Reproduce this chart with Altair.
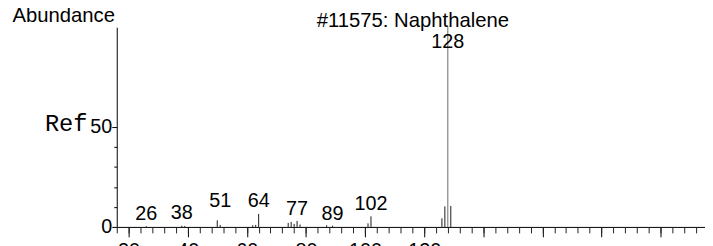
import altair as alt
import pandas as pd

# ---- data ----
mz = [26, 38, 39, 50, 51, 62, 63, 64, 74, 75, 76, 77, 78, 87, 89, 101, 102, 126, 127, 128, 129]
abund = [0.4, 0.6, 0.5, 3.3, 1.0, 0.8, 1.0, 6.5, 2.0, 2.5, 1.5, 3.0, 1.2, 0.8, 0.6, 1.8, 5.3, 4.3, 10.3, 100, 10.5]

label_mz = [26, 38, 51, 64, 77, 89, 102, 128]
label_text = ["26", "38", "51", "64", "77", "89", "102", "128"]
label_at = [6.4, 6.9, 12.7, 12.7, 8.7, 6.6, 11.4, 92.6]

x_major_ticks = [20, 40, 60, 80, 100, 120, 140, 160, 180, 200]
x_minor_ticks = list(range(16, 216, 4))
y_major_ticks = [0, 50]
y_minor_ticks = [10, 20, 30, 40]

peaks = pd.DataFrame({"mz": mz, "abund": abund})
labels = pd.DataFrame({"mz": label_mz, "text": label_text, "at": label_at})

FONT = "Liberation Sans"

xscale = alt.Scale(domain=[16, 215], nice=False, zero=False)
yscale = alt.Scale(domain=[0, 100], nice=False)

x_major_axis = alt.Axis(
    orient="bottom", values=x_major_ticks, tickSize=10, tickColor="black", tickWidth=1,
    domainColor="black", domainWidth=1, grid=False, title=None,
    labelFont=FONT, labelFontSize=20, labelColor="black", labelPadding=4,
    labelExpr="datum.value <= 120 ? datum.label : ''", labelFlush=False, labelOverlap=False,
)
x_minor_axis = alt.Axis(
    orient="bottom", values=x_minor_ticks, tickSize=6, tickColor="#222", tickWidth=1,
    domain=False, grid=False, labels=False,
    title="#11575: Naphthalene", titleFont=FONT, titleFontSize=20.5, titleFontWeight="normal",
    titleColor="black", titleAngle=0, titleAlign="center", titleBaseline="alphabetic",
    titleX=299, titleY=-203,
)
y_major_axis = alt.Axis(
    orient="left", values=y_major_ticks, tickSize=5, tickColor="black", domainColor="black",
    grid=False, labelFont=FONT, labelFontSize=20, labelColor="black", labelPadding=0,
    title="Ref", titleFont="Liberation Mono", titleFontSize=24, titleFontWeight="normal",
    titleColor="black", titleAngle=0, titleAlign="right", titleBaseline="alphabetic",
    titleX=-30, titleY=104,
)
y_minor_axis = alt.Axis(
    orient="left", values=y_minor_ticks, tickSize=3, tickColor="black", domain=False,
    grid=False, labels=False,
    title="Abundance", titleFont=FONT, titleFontSize=20.5, titleFontWeight="normal",
    titleColor="black", titleAngle=0, titleAlign="left", titleBaseline="alphabetic",
    titleX=-106, titleY=-6,
)

sticks = alt.Chart(peaks).mark_rule(strokeWidth=1).encode(
    x=alt.X("mz:Q", scale=xscale, axis=x_major_axis),
    y=alt.Y("abund:Q", scale=yscale, axis=y_major_axis),
    y2=alt.datum(0),
    color=alt.condition(alt.datum.abund > 50, alt.value("#6a6a6a"), alt.value("#1a1a1a")),
)

text = alt.Chart(labels).mark_text(
    font=FONT, fontSize=20, color="black", baseline="middle", align="center"
).encode(
    x=alt.X("mz:Q", scale=xscale, axis=x_minor_axis),
    y=alt.Y("at:Q", scale=yscale, axis=y_minor_axis),
    text="text:N",
)

chart = alt.layer(sticks, text).resolve_axis(x="independent", y="independent").properties(
    width=595,
    height=202,
    autosize=alt.AutoSizeParams(type="none"),
    padding={"left": 110, "top": 18, "right": 0, "bottom": 30},
    background="white",
).configure_view(stroke=None)

chart.save("out.html", embed_options={"renderer": "svg", "actions": False})
